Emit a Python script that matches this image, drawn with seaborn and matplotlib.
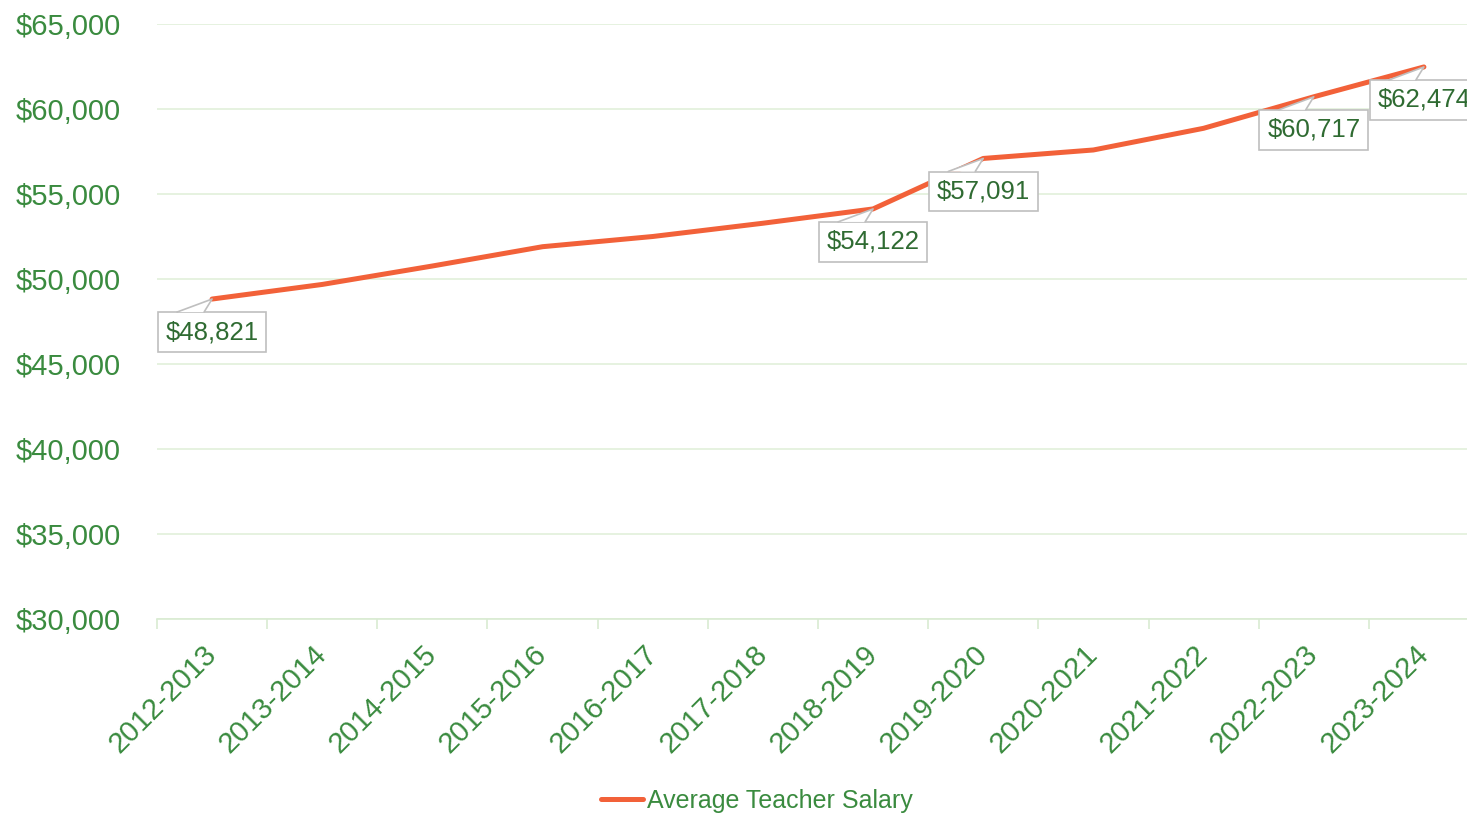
import matplotlib
matplotlib.use("Agg")
import matplotlib.pyplot as plt
import matplotlib.transforms as mtransforms
from matplotlib.patches import Polygon
from matplotlib.ticker import FuncFormatter, MultipleLocator
import numpy as np
import pandas as pd
import seaborn as sns

# data
school_years = ['2012-2013', '2013-2014', '2014-2015', '2015-2016', '2016-2017', '2017-2018',
                '2018-2019', '2019-2020', '2020-2021', '2021-2022', '2022-2023', '2023-2024']
avg_salary = [48821, 49680, 50765, 51900, 52500, 53280, 54122, 57091, 57590, 58865, 60717, 62474]
labelled_years = ['2012-2013', '2018-2019', '2019-2020', '2022-2023', '2023-2024']

series_name = 'Average Teacher Salary'
line_color = '#F26139'
axis_green = '#3A8B3F'
label_green = '#2F6B32'
grid_color = '#E2F0DA'

sns.set_theme(style='white')
plt.rcParams['font.family'] = ['Liberation Sans', 'DejaVu Sans']

df = pd.DataFrame({'year': school_years, 'salary': avg_salary})
df['pos'] = np.arange(len(df))

fig = plt.figure(figsize=(14.67, 8.14), dpi=100)
ax = fig.add_axes([157 / 1467, 1 - 619 / 814, 1322 / 1467, 595 / 814])

sns.lineplot(data=df, x='pos', y='salary', ax=ax, color=line_color, linewidth=3.6,
             label=series_name, zorder=3, solid_capstyle='round')

ax.set_xlim(-0.5, len(df) - 0.5)
ax.set_ylim(30000, 65000)
ax.yaxis.set_major_locator(MultipleLocator(5000))
ax.yaxis.set_major_formatter(FuncFormatter(lambda v, p: f'${v:,.0f}'))
ax.grid(axis='y', color=grid_color, linewidth=1.2)
ax.set_axisbelow(True)
for s in ['top', 'right', 'left']:
    ax.spines[s].set_visible(False)
ax.spines['bottom'].set_color('#D9EBD2')
ax.spines['bottom'].set_linewidth(1.2)

ax.set_xticks(df['pos'])
ax.set_xticklabels(school_years, rotation=45, ha='right', va='center',
                   rotation_mode='anchor', fontsize=21, color=axis_green)
ax.set_xticks(np.arange(-0.5, len(df)), minor=True)
ax.tick_params(axis='x', which='major', length=0, pad=22)
ax.tick_params(axis='x', which='minor', length=7, width=1.2, color='#D9EBD2', bottom=True)
ax.tick_params(axis='y', length=0, labelsize=21, labelcolor=axis_green, pad=26)
ax.set_xlabel('')
ax.set_ylabel('')

# data labels with callouts
for _, row in df[df['year'].isin(labelled_years)].iterrows():
    x, y = row['pos'], row['salary']
    ax.annotate(f"${y:,.0f}", xy=(x, y), xytext=(0, -33), textcoords='offset pixels',
                ha='center', va='center', fontsize=18.5, color=label_green, zorder=5,
                bbox=dict(boxstyle='square,pad=0.3', fc='white', ec='#BFBFBF', lw=1.2))
    trans = fig.dpi_scale_trans + mtransforms.ScaledTranslation(x, y, ax.transData)
    tri = [(-0.35, -0.13), (0, 0), (-0.08, -0.13)]
    ax.add_patch(Polygon(tri, closed=True, fc='white', ec='none', transform=trans,
                         zorder=6, clip_on=False))
    ax.plot([p[0] for p in tri], [p[1] for p in tri], color='#BFBFBF', lw=1.2,
            transform=trans, zorder=6, clip_on=False)

leg = ax.legend(loc='center', bbox_to_anchor=(0.516, 0.016), bbox_transform=fig.transFigure,
                frameon=False, fontsize=18, handlelength=1.7, handletextpad=0.15)
for t in leg.get_texts():
    t.set_color(axis_green)
for h in leg.get_lines():
    h.set_linewidth(3.6)

fig.savefig('out.png', dpi=100)
